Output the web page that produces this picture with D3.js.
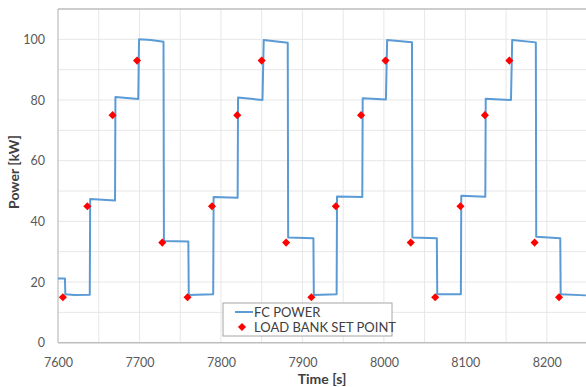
<!DOCTYPE html>
<html><head><meta charset="utf-8">
<script src="https://cdn.jsdelivr.net/npm/d3@7"></script>
<style>html,body{margin:0;padding:0;background:#fff;overflow:hidden}</style>
</head><body>
<svg id="chart" width="586" height="387"></svg>
<script>
// FC power trace (time [s], power [kW]) — step vertices
const fcTime = [7600,7608.5,7609,7620,7639,7639.5,7670,7670.5,7698.5,7699.5,7714,7729.5,7730,7760,7760.5,7790.5,
  7791,7820.5,7821,7851,7852.5,7882,7882.5,7913.5,7914,7942,
  7942.5,7973.5,7974,8002.5,8004,8034.5,8035,8065,8065.5,8094.5,
  8095,8124.5,8125,8156,8157.5,8186.5,8187,8216.5,8217,8248];
const fcPower = [21.2,21.2,16.0,15.7,15.8,47.4,46.9,81.0,80.3,100.0,99.8,99.2,33.5,33.4,15.7,16.0,
  48.0,47.8,80.8,80.0,99.8,98.9,34.7,34.4,15.7,16.0,
  48.2,48.0,80.6,80.2,99.8,99.0,34.7,34.4,16.0,16.0,
  48.4,48.1,80.4,80.0,99.8,99.0,34.9,34.4,16.0,15.6];
// Load bank set points
const spTime = [7606,7636,7667,7697,7728,7759,7789,7820,7850,7880,7911,7941,7972,8002,8033,8063,8094,8124,8154,8185,8215];
const spPower = [15,45,75,93,33,15,45,75,93,33,15,45,75,93,33,15,45,75,93,33,15];
const xTicks = [7600,7700,7800,7900,8000,8100,8200];
const yTicks = [0,20,40,60,80,100];
const seriesNames = ["FC POWER","LOAD BANK SET POINT"];

const svg = d3.select("#chart");
const L = 58, R = 590, T = 9, B = 342.7;
const x = d3.scaleLinear().domain([7600, 8253]).range([L, R]);
const y = d3.scaleLinear().domain([0, 110]).range([B, T]);
const font = "Lato, 'Open Sans', sans-serif";

// gridlines
svg.append("g").selectAll("line").data(d3.range(7650, 8251, 50)).join("line")
  .attr("x1", d => x(d)).attr("x2", d => x(d)).attr("y1", T).attr("y2", B)
  .attr("stroke", "#e7e7e7").attr("stroke-width", 1);
svg.append("g").selectAll("line").data(d3.range(10, 101, 10)).join("line")
  .attr("x1", L).attr("x2", R).attr("y1", d => y(d)).attr("y2", d => y(d))
  .attr("stroke", "#e7e7e7").attr("stroke-width", 1);

// border lines
svg.append("line").attr("x1", L).attr("x2", R).attr("y1", T).attr("y2", T).attr("stroke", "#bdbdbd").attr("stroke-width", 1.5);
svg.append("line").attr("x1", L).attr("x2", L).attr("y1", T).attr("y2", B).attr("stroke", "#bdbdbd").attr("stroke-width", 1.2);
svg.append("line").attr("x1", L).attr("x2", R).attr("y1", B).attr("y2", B).attr("stroke", "#bdbdbd").attr("stroke-width", 1.5);

// axes (labels via d3 axis)
const xAxis = svg.append("g").attr("transform", `translate(0,${B})`)
  .call(d3.axisBottom(x).tickValues(xTicks).tickSize(0).tickPadding(15).tickFormat(d3.format("d")));
const yAxis = svg.append("g").attr("transform", `translate(${L},0)`)
  .call(d3.axisLeft(y).tickValues(yTicks).tickSize(0).tickPadding(13).tickFormat(d3.format("d")));
[xAxis, yAxis].forEach(a => {
  a.select(".domain").remove();
  a.selectAll("text").attr("fill", "#595959").style("font-family", font).style("font-size", "12.5px");
});

// clip
svg.append("clipPath").attr("id", "clip").append("rect").attr("x", L).attr("y", T - 5).attr("width", R - L).attr("height", B - T + 10);

const fcData = fcTime.map((t, i) => [t, fcPower[i]]);
svg.append("path").datum(fcData).attr("clip-path", "url(#clip)")
  .attr("d", d3.line().x(d => x(d[0])).y(d => y(d[1])))
  .attr("fill", "none").attr("stroke", "#5b9bd5").attr("stroke-width", 2).attr("stroke-linejoin", "round");

const diamond = d3.symbol().type(d3.symbolDiamond2).size(42);
svg.append("g").selectAll("path").data(spTime.map((t, i) => [t, spPower[i]])).join("path")
  .attr("transform", d => `translate(${x(d[0])},${y(d[1])})`)
  .attr("d", diamond).attr("fill", "#ff0000");

// axis titles
svg.append("text").attr("x", 322).attr("y", 384).attr("text-anchor", "middle")
  .style("font-family", font).style("font-weight", "bold").style("font-size", "14px").attr("fill", "#404040").text("Time [s]");
svg.append("text").attr("transform", "translate(19,172) rotate(-90)").attr("text-anchor", "middle")
  .style("font-family", font).style("font-weight", "bold").style("font-size", "14px").attr("fill", "#404040").text("Power [kW]");

// legend
const lg = svg.append("g");
lg.append("rect").attr("x", 223).attr("y", 303).attr("width", 169).attr("height", 33)
  .attr("fill", "#fff").attr("stroke", "#a6a6a6").attr("stroke-width", 1);
lg.append("line").attr("x1", 235).attr("x2", 253).attr("y1", 312).attr("y2", 312).attr("stroke", "#5b9bd5").attr("stroke-width", 2);
lg.append("path").attr("transform", "translate(242,327)").attr("d", diamond).attr("fill", "#ff0000");
lg.selectAll("text").data(seriesNames).join("text")
  .attr("x", 254).attr("y", (d, i) => 316.5 + i * 15)
  .style("font-family", font).style("font-size", "13px").attr("fill", "#404040").text(d => d);
</script>
</body></html>
